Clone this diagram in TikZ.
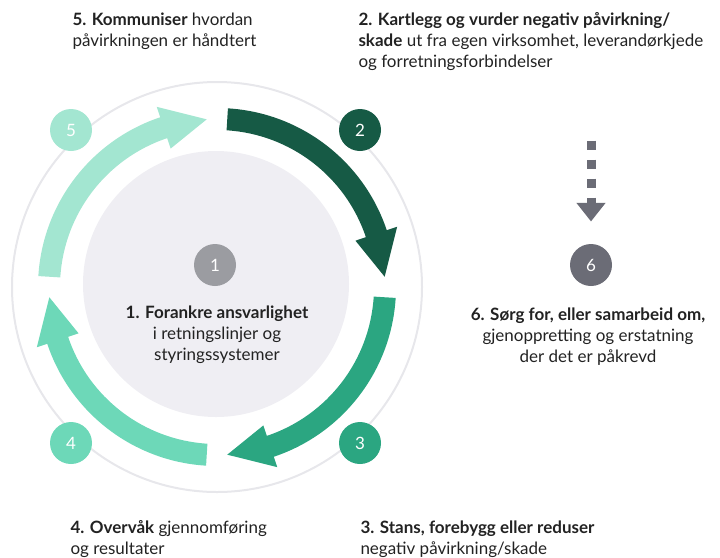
\documentclass[tikz,border=0pt]{standalone}
\usepackage{fontspec}
\setmainfont{Lato}
\usetikzlibrary{arrows.meta}

\definecolor{stepTwo}{HTML}{165A45}
\definecolor{stepThree}{HTML}{2BA681}
\definecolor{stepFour}{HTML}{6DD8B8}
\definecolor{stepFive}{HTML}{A3E6D1}
\definecolor{ringGray}{HTML}{E7E7EB}
\definecolor{discGray}{HTML}{EFEEF3}
\definecolor{oneGray}{HTML}{9B9CA1}
\definecolor{sixGray}{HTML}{6B6C76}
\definecolor{inkText}{HTML}{222222}

\tikzset{every picture/.style={line width=0.75pt}}
\tikzset{
  numdot/.style={circle, minimum size=31.5pt, inner sep=0pt, text=white, font=\fontsize{12.75}{15}\selectfont},
  steptext/.style={inner sep=0pt, text=inkText, font=\fontsize{12.75}{15.75}\selectfont},
  dasharrow/.style={draw=sixGray, line width=6.75pt, dash pattern=on 6.75pt off 7.5pt, -{Triangle[width=21pt,length=14pt]}}
}

\begin{document}
\begin{tikzpicture}[x=0.75pt,y=0.75pt,yscale=-1,xscale=1]
        \path (0,0) rectangle (720,556); %set diagram size 720 x 556

        %Shape: Circle [ring]
        \draw [color=ringGray, line width=1.5pt] (217,287) circle [radius=205];
        %Shape: Circle [disc]
        \fill [discGray] (216,284) circle [radius=133];

        \begin{scope}[shift={(217,287)}, yscale=-1]
        %Shape: Arc arrow [2]
        \fill [stepTwo] (86.5:179) arc [start angle=86.5, end angle=18.5, radius=179] -- (18.5:190) -- (3.5:168) -- (18.5:146) -- (18.5:157) arc [start angle=18.5, end angle=86.5, radius=157] -- cycle ;
        %Shape: Arc arrow [3]
        \fill [stepThree] (-3.5:179) arc [start angle=-3.5, end angle=-71.5, radius=179] -- (-71.5:190) -- (-86.5:168) -- (-71.5:146) -- (-71.5:157) arc [start angle=-71.5, end angle=-3.5, radius=157] -- cycle ;
        %Shape: Arc arrow [4]
        \fill [stepFour] (-93.5:179) arc [start angle=-93.5, end angle=-161.5, radius=179] -- (-161.5:190) -- (-176.5:168) -- (-161.5:146) -- (-161.5:157) arc [start angle=-161.5, end angle=-93.5, radius=157] -- cycle ;
        %Shape: Arc arrow [5]
        \fill [stepFive] (176.5:179) arc [start angle=176.5, end angle=108.5, radius=179] -- (108.5:190) -- (93.5:168) -- (108.5:146) -- (108.5:157) arc [start angle=108.5, end angle=176.5, radius=157] -- cycle ;
        \end{scope}

        % Number Nodes
        \node [numdot, fill=oneGray] (n1) at (215,265) {1};
        \node [numdot, fill=stepTwo] (n2) at (360,130) {2};
        \node [numdot, fill=stepThree] (n3) at (360,443) {3};
        \node [numdot, fill=stepFour] (n4) at (71,443) {4};
        \node [numdot, fill=stepFive] (n5) at (71,130) {5};
        \node [numdot, fill=sixGray] (n6) at (591,265) {6};

        %Dotted Arrow
        \coordinate (dashtop) at (591,140.5);
        \draw [dasharrow, shorten >=16.5pt] (dashtop) -- (n6.north) ;

        % Text Node
        \draw (72,12.5) node [steptext, anchor=north west, align=left] (t5) {\textbf{5. Kommuniser} hvordan\\påvirkningen er håndtert};
        % Text Node
        \draw (358,12) node [steptext, anchor=north west, align=left] (t2) {\textbf{2. Kartlegg og vurder negativ påvirkning/}\\\textbf{skade} ut fra egen virksomhet, leverandørkjede\\og forretningsforbindelser};
        % Text Node
        \draw (217,305.5) node [steptext, anchor=north, align=center] (t1) {\textbf{1. Forankre ansvarlighet}\\i retningslinjer og\\styringssystemer};
        % Text Node
        \draw (588,307.5) node [steptext, anchor=north, align=center] (t6) {\textbf{6. Sørg for, eller samarbeid om,}\\gjenoppretting og erstatning\\der det er påkrevd};
        % Text Node
        \draw (70,520) node [steptext, anchor=north west, align=left] (t4) {\textbf{4. Overvåk} gjennomføring\\og resultater};
        % Text Node
        \draw (360,520.5) node [steptext, anchor=north west, align=left] (t3) {\textbf{3. Stans, forebygg eller reduser}\\negativ påvirkning/skade};
\end{tikzpicture}
\end{document}
